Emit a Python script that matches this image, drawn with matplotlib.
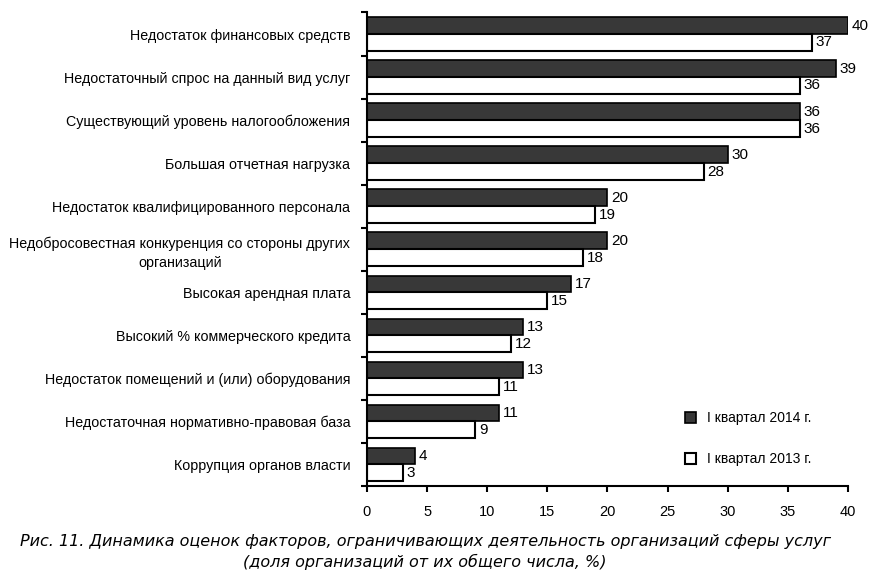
import matplotlib.pyplot as plt
import numpy as np

categories = [
    "Недостаток финансовых средств",
    "Недостаточный спрос на данный вид услуг",
    "Существующий уровень налогообложения",
    "Большая отчетная нагрузка",
    "Недостаток квалифицированного персонала",
    "Недобросовестная конкуренция со стороны других\nорганизаций",
    "Высокая арендная плата",
    "Высокий % коммерческого кредита",
    "Недостаток помещений и (или) оборудования",
    "Недостаточная нормативно-правовая база",
    "Коррупция органов власти",
]
q1_2014 = [40, 39, 36, 30, 20, 20, 17, 13, 13, 11, 4]
q1_2013 = [37, 36, 36, 28, 19, 18, 15, 12, 11, 9, 3]
series_labels = ["I квартал 2014 г.", "I квартал 2013 г."]
caption = ("Рис. 11. Динамика оценок факторов, ограничивающих деятельность организаций сферы услуг\n"
           "(доля организаций от их общего числа, %)")


def main():
    plt.rcParams["font.family"] = ["Liberation Sans", "DejaVu Sans"]
    fig = plt.figure(figsize=(8.8, 5.81), dpi=100)
    ax = fig.add_axes((0.417, 0.1635, 0.5466, 0.815))

    n = len(categories)
    y = np.arange(n)
    h = 0.39
    ax.barh(y - h / 2, q1_2014, height=h, color="#383838", edgecolor="black",
            linewidth=1.2, label=series_labels[0])
    ax.barh(y + h / 2, q1_2013, height=h, color="white", edgecolor="black",
            linewidth=1.5, label=series_labels[1])

    for yi, v in zip(y, q1_2014):
        ax.text(v + 0.3, yi - h / 2, str(v), va="center", ha="left", fontsize=11)
    for yi, v in zip(y, q1_2013):
        ax.text(v + 0.3, yi + h / 2, str(v), va="center", ha="left", fontsize=11)

    ax.set_ylim(n - 0.5, -0.5)
    ax.set_xlim(0, 40)
    ax.set_xticks(range(0, 41, 5))
    ax.set_yticks(np.arange(-0.5, n, 1.0))
    ax.set_yticklabels([])
    ax.set_yticks(y, minor=True)
    ax.set_yticklabels(categories, minor=True, fontsize=10.3, ha="right",
                       multialignment="center", linespacing=1.45)
    ax.tick_params(axis="y", which="minor", length=0, pad=12)
    ax.tick_params(axis="y", which="major", length=4, width=1.5, direction="out")
    ax.tick_params(axis="x", length=4, width=1.5, direction="out", labelsize=10.5, pad=10)

    for s in ["top", "right"]:
        ax.spines[s].set_visible(False)
    ax.spines["left"].set_linewidth(1.5)
    ax.spines["bottom"].set_linewidth(1.5)

    ax.legend(loc="lower right", bbox_to_anchor=(0.95, 0.015), frameon=False,
              fontsize=10, handlelength=0.8, handleheight=0.8, labelspacing=1.95,
              handletextpad=0.8)

    fig.text(0.483, 0.05, caption, ha="center", va="center", fontsize=11.5,
             style="italic", family=["DejaVu Sans"], linespacing=1.35)

    fig.savefig("out.png", dpi=100)


if __name__ == "__main__":
    main()
